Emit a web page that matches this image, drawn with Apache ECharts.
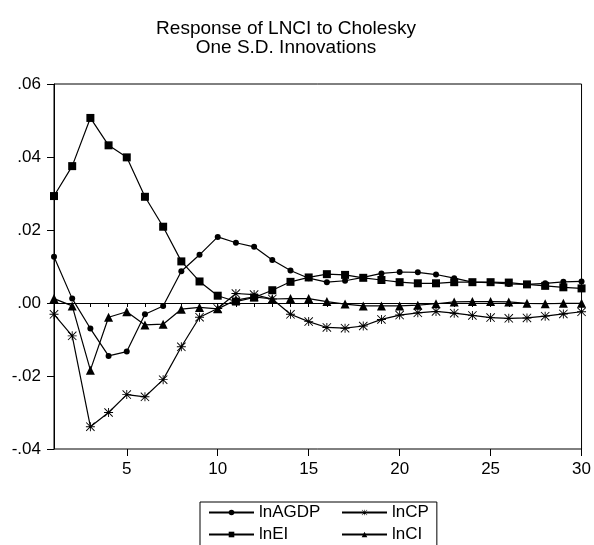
<!DOCTYPE html>
<html lang="en">
<head>
    <meta charset="UTF-8"/>
    <title>Response of LNCI to Cholesky</title>
    <script src="https://cdn.jsdelivr.net/npm/echarts@6/dist/echarts.min.js"></script>
</head>
<body style="margin:0;">
<div id="main" style="width:594px;height:545px;"></div>

<script type="text/javascript">
    // periods 1..30
    var periods = [];
    for (var i = 1; i <= 30; i++) periods.push(String(i));

    var lnAGDP = [0.0127, 0.0012, -0.0070, -0.0145, -0.0133, -0.0031, -0.0008, 0.0087, 0.0132, 0.0181,
        0.0165, 0.0154, 0.0118, 0.0089, 0.0068, 0.0057, 0.0061, 0.0070, 0.0081, 0.0085,
        0.0084, 0.0078, 0.0068, 0.0057, 0.0056, 0.0052, 0.0051, 0.0054, 0.0058, 0.0059];
    var lnEI = [0.0293, 0.0375, 0.0507, 0.0432, 0.0399, 0.0291, 0.0209, 0.0114, 0.0059, 0.0020,
        0.0004, 0.0015, 0.0035, 0.0058, 0.0070, 0.0079, 0.0077, 0.0069, 0.0063, 0.0057,
        0.0054, 0.0054, 0.0057, 0.0057, 0.0057, 0.0056, 0.0051, 0.0047, 0.0043, 0.0040];
    var lnCP = [-0.0031, -0.0090, -0.0339, -0.0300, -0.0251, -0.0257, -0.0210, -0.0120, -0.0039, -0.0015,
        0.0026, 0.0023, 0.0011, -0.0031, -0.0051, -0.0067, -0.0069, -0.0063, -0.0045, -0.0033,
        -0.0027, -0.0023, -0.0028, -0.0034, -0.0040, -0.0042, -0.0041, -0.0036, -0.0030, -0.0024];
    var lnCI = [0.0012, -0.0008, -0.0184, -0.0039, -0.0024, -0.0060, -0.0058, -0.0017, -0.0012, -0.0016,
        0.0008, 0.0017, 0.0011, 0.0012, 0.0012, 0.0004, -0.0003, -0.0008, -0.0008, -0.0008,
        -0.0006, -0.0002, 0.0003, 0.0004, 0.0004, 0.0003, -0.0001, -0.0002, -0.0001, -0.0001];

    var FONT = "'Liberation Sans', Arial, sans-serif";
    // asterisk marker built from four thin bars
    var asterisk = 'path://M9 0L11 0L11 20L9 20Z M0 9L20 9L20 11L0 11Z ' +
        'M0 1.4L1.4 0L20 18.6L18.6 20Z M18.6 0L20 1.4L1.4 20L0 18.6Z';

    function fmtY(v) {
        if (Math.abs(v) < 1e-9) return '.00';
        return (v < 0 ? '-' : '') + Math.abs(v).toFixed(2).replace(/^0/, '');
    }
    function everyFifth(idx, val) {
        return Number(val) % 5 === 0;
    }

    function makeSeries(name, data, symbol, size) {
        return {
            name: name,
            type: 'line',
            data: data,
            symbol: symbol,
            symbolSize: size,
            showAllSymbol: true,
            lineStyle: {color: '#000', width: 1.2},
            itemStyle: {color: '#000'},
            z: 3
        };
    }

    var myChart = echarts.init(document.getElementById('main'));
    var series = [
        makeSeries('lnAGDP', lnAGDP, 'circle', 6),
        makeSeries('lnEI', lnEI, 'rect', 8),
        makeSeries('lnCP', lnCP, asterisk, 9),
        makeSeries('lnCI', lnCI, 'triangle', 9)
    ];
    // zero reference line
    series[0].markLine = {
        silent: true,
        symbol: 'none',
        label: {show: false},
        lineStyle: {color: '#000', width: 1, type: 'solid'},
        data: [{yAxis: 0}],
        z: 2
    };

    var option = {
        animation: false,
        backgroundColor: '#fff',
        textStyle: {fontFamily: FONT, color: '#000'},
        title: {
            text: 'Response of LNCI to Cholesky\nOne S.D. Innovations',
            left: 281,
            top: 14,
            textAlign: 'center',
            textStyle: {fontFamily: FONT, fontSize: 19, fontWeight: 'normal', color: '#000', lineHeight: 19}
        },
        grid: {
            left: 54, right: 10, top: 84, bottom: 96,
            show: true, borderColor: '#000', borderWidth: 1, backgroundColor: 'transparent'
        },
        legend: {
            left: 200,
            top: 502,
            width: 225,
            orient: 'horizontal',
            itemWidth: 45,
            itemHeight: 7,
            itemGap: 5,
            padding: [2, 8, 20, 8],
            borderColor: '#000',
            borderWidth: 1,
            textStyle: {fontFamily: FONT, fontSize: 17, color: '#000', lineHeight: 14},
            data: [
                {name: 'lnAGDP', textStyle: {width: 77}},
                {name: 'lnCP'},
                {name: 'lnEI', textStyle: {width: 77}},
                {name: 'lnCI'}
            ]
        },
        xAxis: [{
            type: 'category',
            data: periods,
            boundaryGap: false,
            axisLine: {lineStyle: {color: '#000', width: 1}},
            axisTick: {interval: 0, length: 4, lineStyle: {color: '#000'}},
            axisLabel: {show: false},
            splitLine: {show: false}
        }, {
            type: 'category',
            data: periods,
            boundaryGap: false,
            position: 'bottom',
            axisLine: {show: false},
            axisTick: {interval: everyFifth, length: 7, lineStyle: {color: '#000'}},
            axisLabel: {interval: everyFifth, fontSize: 17, color: '#000', margin: 12, fontFamily: FONT},
            splitLine: {show: false}
        }],
        yAxis: {
            type: 'value',
            min: -0.04,
            max: 0.06,
            interval: 0.02,
            axisLine: {show: true, lineStyle: {color: '#000', width: 1}},
            axisTick: {show: true, length: 7, lineStyle: {color: '#000'}},
            axisLabel: {formatter: fmtY, fontSize: 17, color: '#000', margin: 13, fontFamily: FONT},
            splitLine: {show: false}
        },
        series: series
    };
    myChart.setOption(option);
</script>
</body>
</html>
